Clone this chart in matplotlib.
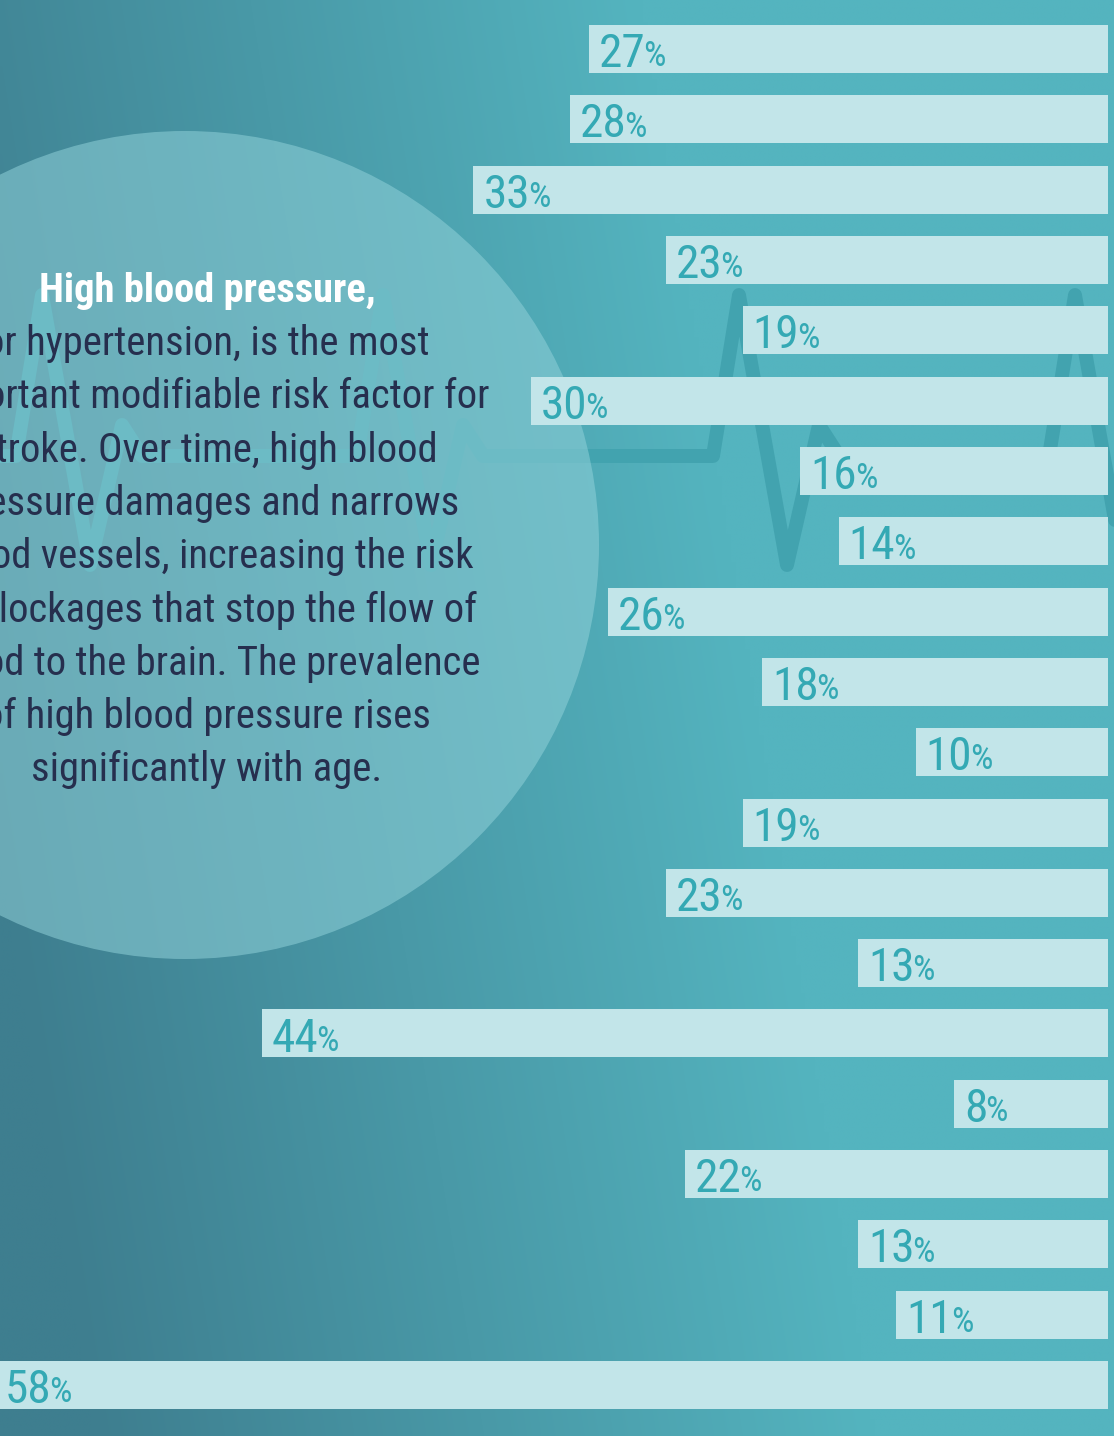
import numpy as np
import matplotlib
matplotlib.use("Agg")
import matplotlib.pyplot as plt
from matplotlib import font_manager as fm
from matplotlib.patches import Circle

# ---------------- data ----------------
values = [27, 28, 33, 23, 19, 30, 16, 14, 26, 18, 10, 19, 23, 13, 44, 8, 22, 13, 11, 58]
title_line = "High blood pressure,"
body_lines = [
    "or hypertension, is the most",
    "important modifiable risk factor for",
    "stroke. Over time, high blood",
    "pressure damages and narrows",
    "blood vessels, increasing the risk",
    "of blockages that stop the flow of",
    "blood to the brain. The prevalence",
    "of high blood pressure rises",
    "significantly with age.",
]
# decorative heartbeat line: R-peak x positions (pixels)
ecg_peaks = [42, 383, 739, 1075]

# ---------------- fonts ----------------
names = {f.name for f in fm.fontManager.ttflist}
if "Roboto Condensed" in names:
    FONT = "Roboto Condensed"; scale = 1.0
elif "Liberation Sans Narrow" in names:
    FONT = "Liberation Sans Narrow"; scale = 1.0
else:
    FONT = "Roboto"; scale = 0.85

W, H = 1114, 1436
fig = plt.figure(figsize=(W / 100, H / 100), dpi=100)

# ---------------- background ----------------
bg = fig.add_axes([0, 0, 1, 1])
bg.set_xlim(0, W)
bg.set_ylim(H, 0)
bg.axis("off")

gx = np.linspace(0, W, 240)
gy = np.linspace(0, H, 300)
X, Y = np.meshgrid(gx, gy)
t = np.clip(0.18 + X / 780 - (Y / H) * 0.30, 0, 1)
dark = np.array([0x3e, 0x7e, 0x8f]) / 255
light = np.array([0x54, 0xb4, 0xbf]) / 255
img = dark[None, None, :] * (1 - t[..., None]) + light[None, None, :] * t[..., None]
bg.imshow(img, extent=[0, W, H, 0], aspect="auto", interpolation="bilinear", zorder=0)

# heartbeat line
base = 456
px, py = [-20], [base]
for xr in ecg_peaks:
    px += [xr - 26, xr, xr + 48, xr + 80, xr + 100]
    py += [base, 295, 565, 425, base]
px.append(W + 40); py.append(base)
bg.plot(px, py, color="#42a3af", lw=10, solid_joinstyle="round",
        solid_capstyle="round", zorder=1)

# translucent circle
bg.add_patch(Circle((185, 545), 414, facecolor="#8fd0d8", alpha=0.55,
                    edgecolor="none", zorder=2))

# text
cx = 207
bg.text(cx, 302, title_line, ha="center", va="baseline", color="white",
        fontsize=29.2 * scale, fontweight="bold", family=FONT, zorder=3)
for k, line in enumerate(body_lines):
    bg.text(cx, 355 + k * 53.3, line, ha="center", va="baseline",
            color="#262f4e", fontsize=29.3 * scale, family=FONT, zorder=3)

# ---------------- bars ----------------
ax = fig.add_axes([0, 0, 1108 / W, 1])
ax.set_facecolor("none")
ax.axis("off")
n = len(values)
step = 70.32
xmax = 1108 / 19.23
ax.set_xlim(xmax, 0)
ax.set_ylim((H - 49) / step, -49 / step)
ypos = np.arange(n)
ax.barh(ypos, values, height=48 / step, left=0, color="#c2e5e9", zorder=3)

for i, v in enumerate(values):
    pad = 7.2 if v <= xmax else 3.5
    txt = ax.annotate(f"{v}", xy=(min(v, xmax), i), xytext=(pad, -13),
                      textcoords="offset points", ha="left", va="baseline",
                      color="#34a9b4", fontsize=34 * scale, family=FONT,
                      zorder=4)
    ax.annotate("%", xy=(1, 0), xycoords=txt, xytext=(-1.5, 2.0),
                textcoords="offset points", ha="left", va="bottom",
                color="#34a9b4", fontsize=25.5 * scale, family=FONT,
                zorder=4)

fig.savefig("out.png", dpi=100)
